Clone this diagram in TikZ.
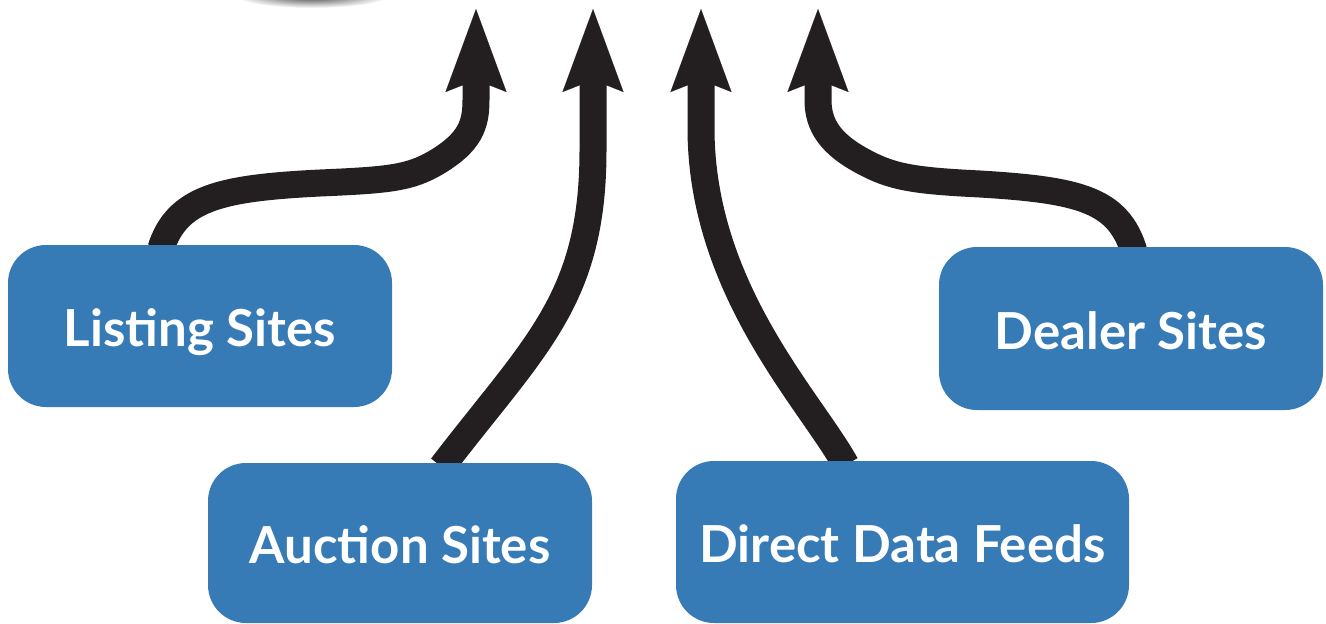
\documentclass[tikz,border=0pt]{standalone}
\usepackage{fontspec}
\setmainfont{Lato}
\usetikzlibrary{arrows.meta,backgrounds,calc}
\definecolor{boxblue}{HTML}{367AB6}
\definecolor{arrowblack}{HTML}{231F20}
\begin{document}
\begin{tikzpicture}[x=1pt,y=-1pt,
  srcbox/.style={fill=boxblue, rounded corners=38pt, inner sep=0pt, text=white,
    font=\fontsize{51}{60}\selectfont\bfseries, text height=41.5pt, text depth=0pt},
  flow/.style={draw=arrowblack, line width=27pt,
    -{Stealth[length=83pt,width=61pt,inset=12pt,line width=0.1pt]}}]
\useasboundingbox (0,0) rectangle (1326,624);
\clip (0,0) rectangle (1326,624);
% shadow at top
\shade[inner color=black!80, outer color=white] (312,-5) ellipse [x radius=78, y radius=13];
% source boxes
\node[srcbox, minimum width=384pt, minimum height=162pt] (listing) at (200,326) {Listing Sites};
\node[srcbox, minimum width=384pt, minimum height=160pt] (auction) at (400,543) {Auction Sites};
\node[srcbox, minimum width=453pt, minimum height=162pt] (direct) at (902.5,542) {Direct Data Feeds};
\node[srcbox, minimum width=384pt, minimum height=163pt] (dealer) at (1131,328.5) {Dealer Sites};
% arrow tips
\coordinate (t1) at (476,9);
\coordinate (t2) at (593,9);
\coordinate (t3) at (701,9);
\coordinate (t4) at (818,9);
\begin{scope}[on background layer]
\draw[flow] ($(listing.north west)+(153,4)$) .. controls (177,198) and (220,188) .. (320,183)
  .. controls (390,180) and (410,178) .. (437,162)
  .. controls (470,142) and (476,125) .. (476,100) -- (t1);
\draw[flow] ($(auction.north west)+(234,4)$) .. controls (535,345) and (593,300) .. (593,150) -- (t2);
\draw[flow] ($(direct.north west)+(170,4)$) .. controls (810,400) and (702,290) .. (701,130) -- (t3);
\draw[flow] ($(dealer.north west)+(195,4)$) .. controls (1118,200) and (1080,190) .. (980,184)
  .. controls (920,181) and (895,178) .. (868,164)
  .. controls (830,145) and (818,125) .. (818,100) -- (t4);
\end{scope}
\end{tikzpicture}
\end{document}
